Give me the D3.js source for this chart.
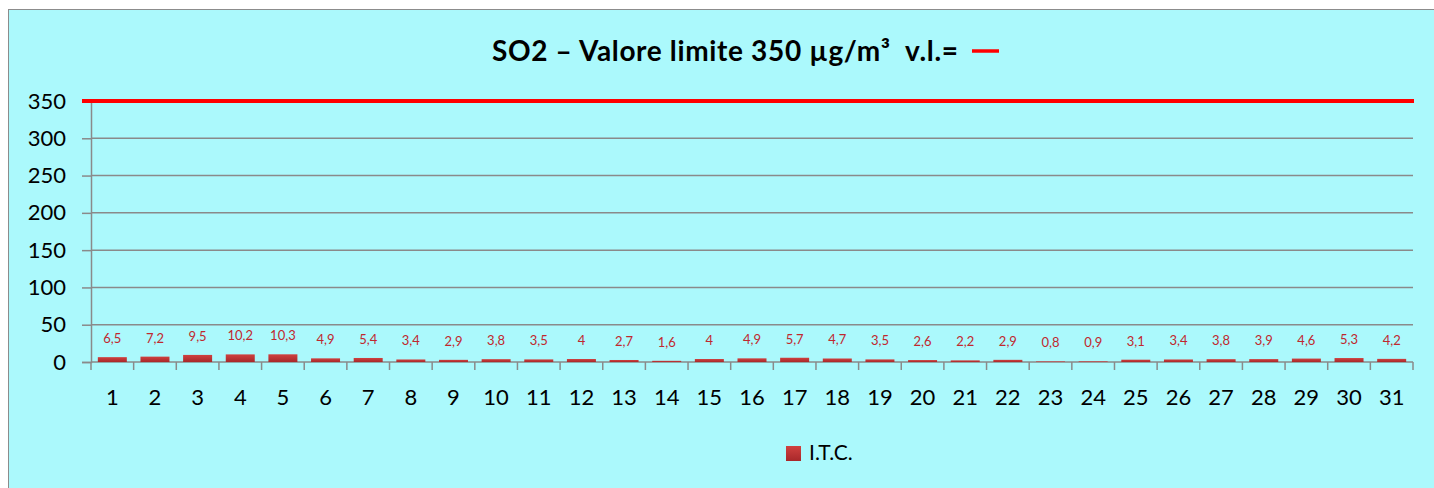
<!DOCTYPE html>
<html>
<head>
<meta charset="utf-8">
<script src="https://cdn.jsdelivr.net/npm/d3@7"></script>
<style>
  html, body { margin: 0; padding: 0; background: #ffffff; }
  svg { display: block; }
</style>
</head>
<body>
<div id="chart"></div>
<script>
// data
var days = d3.range(1, 32).map(String);
var itcValues = [6.5, 7.2, 9.5, 10.2, 10.3, 4.9, 5.4, 3.4, 2.9, 3.8, 3.5, 4, 2.7, 1.6, 4,
                 4.9, 5.7, 4.7, 3.5, 2.6, 2.2, 2.9, 0.8, 0.9, 3.1, 3.4, 3.8, 3.9, 4.6, 5.3, 4.2];
var limitValue = [350];
var yTicks = [0, 50, 100, 150, 200, 250, 300, 350];
var seriesName = "I.T.C.";
var titleText = "SO2 \u2013 Valore limite 350 \u00b5g/m\u00b3  v.l.=";

var width = 1434, height = 488;
var font = "Lato, 'Open Sans', sans-serif";

var svg = d3.select('#chart').append('svg')
    .attr('width', width)
    .attr('height', height);

var defs = svg.append('defs');
var grad = defs.append('linearGradient')
    .attr('id', 'barGrad')
    .attr('x1', 0).attr('y1', 0).attr('x2', 0).attr('y2', 1);
grad.append('stop').attr('offset', '0%').attr('stop-color', '#d0413f');
grad.append('stop').attr('offset', '100%').attr('stop-color', '#a8282a');

// background panel
svg.append('rect')
    .attr('x', 8.5).attr('y', 9.5)
    .attr('width', width + 10).attr('height', height + 10)
    .attr('fill', '#abf9fc')
    .attr('stroke', '#8c8c8c')
    .attr('stroke-width', 1);

var margin = {left: 91, right: 21, top: 101, bottom: 126};
var x = d3.scaleBand()
    .domain(days)
    .range([margin.left, width - margin.right])
    .paddingInner(0.32)
    .paddingOuter(0.16);
var y = d3.scaleLinear()
    .domain([0, 350])
    .range([362, 101]);

var x0 = margin.left, x1 = width - margin.right;

// gridlines
svg.append('g').selectAll('line')
    .data(yTicks.filter(d => d > 0))
    .enter().append('line')
    .attr('x1', x0).attr('x2', x1)
    .attr('y1', d => y(d)).attr('y2', d => y(d))
    .attr('stroke', '#8a8a8a')
    .attr('stroke-width', 1.5);

// y axis
var yAxis = svg.append('g')
    .attr('transform', 'translate(' + x0 + ',0)')
    .call(d3.axisLeft(y).tickValues(yTicks).tickSize(9).tickPadding(16));
yAxis.select('.domain').attr('stroke', '#8a8a8a').attr('stroke-width', 1.5);
yAxis.selectAll('.tick line').attr('stroke', '#8a8a8a').attr('stroke-width', 1.5);
yAxis.selectAll('text')
    .style('font-family', font)
    .style('font-size', '22px')
    .attr('fill', '#000');

// x axis: ticks on category boundaries
var xAxisG = svg.append('g').attr('transform', 'translate(0,' + y(0) + ')');
xAxisG.append('line')
    .attr('x1', x0).attr('x2', x1)
    .attr('stroke', '#8a8a8a').attr('stroke-width', 1.5);
var bounds = d3.range(0, days.length + 1).map(i => x0 + i * (x1 - x0) / days.length);
xAxisG.selectAll('.xt')
    .data(bounds)
    .enter().append('line')
    .attr('x1', d => d).attr('x2', d => d)
    .attr('y1', 0).attr('y2', 8)
    .attr('stroke', '#8a8a8a').attr('stroke-width', 1.5);
xAxisG.selectAll('.xl')
    .data(days)
    .enter().append('text')
    .attr('x', d => x(d) + x.bandwidth() / 2)
    .attr('y', 43)
    .attr('text-anchor', 'middle')
    .style('font-family', font)
    .style('font-size', '22px')
    .attr('fill', '#000')
    .text(d => d);

// bars
svg.append('g').selectAll('rect')
    .data(itcValues)
    .enter().append('rect')
    .attr('x', (d, i) => x(days[i]))
    .attr('y', d => y(d))
    .attr('width', x.bandwidth())
    .attr('height', d => y(0) - y(d))
    .attr('fill', 'url(#barGrad)');

// value labels
svg.append('g').selectAll('text')
    .data(itcValues)
    .enter().append('text')
    .attr('x', (d, i) => x(days[i]) + x.bandwidth() / 2)
    .attr('y', d => y(d) - 14)
    .attr('text-anchor', 'middle')
    .style('font-family', font)
    .style('font-size', '13px')
    .attr('fill', '#c0282e')
    .text(d => String(d).replace('.', ','));

// limit line
svg.append('g').selectAll('line')
    .data(limitValue)
    .enter().append('line')
    .attr('x1', 82).attr('x2', 1414)
    .attr('y1', d => y(d)).attr('y2', d => y(d))
    .attr('stroke', '#ff0000')
    .attr('stroke-width', 4);

// title
svg.append('text')
    .attr('x', 492)
    .attr('y', 61)
    .attr('textLength', 466)
    .attr('lengthAdjust', 'spacing')
    .style('white-space', 'pre')
    .style('font-family', font)
    .style('font-size', '28px')
    .style('font-weight', 'bold')
    .attr('fill', '#000')
    .text(titleText);
svg.append('line')
    .attr('x1', 972).attr('x2', 999)
    .attr('y1', 51).attr('y2', 51)
    .attr('stroke', '#ff0000')
    .attr('stroke-width', 3.5);

// legend
svg.append('rect')
    .attr('x', 786).attr('y', 446)
    .attr('width', 15).attr('height', 15)
    .attr('fill', 'url(#barGrad)');
svg.append('text')
    .attr('x', 809).attr('y', 460)
    .style('font-family', font)
    .style('font-size', '21px')
    .attr('fill', '#000')
    .text(seriesName);
</script>
</body>
</html>
